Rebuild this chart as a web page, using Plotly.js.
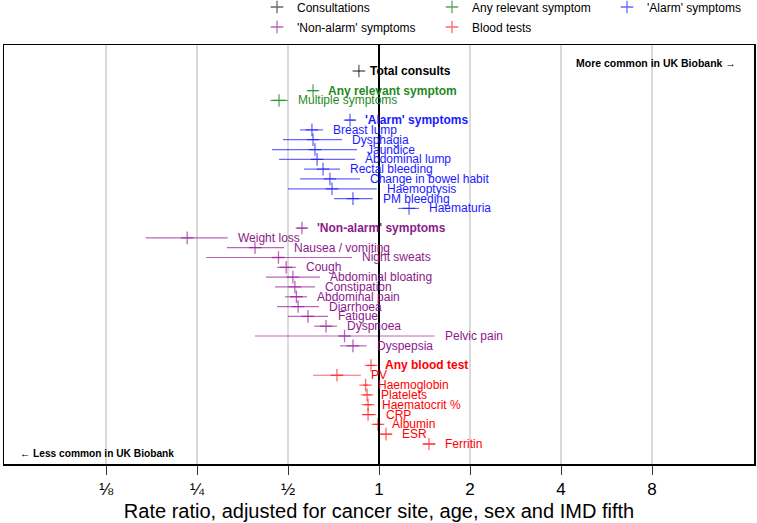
<!DOCTYPE html>
<html><head><meta charset="utf-8">
<script src="https://cdn.plot.ly/plotly-3.0.1.min.js"></script>
<style>html,body{margin:0;padding:0;background:#fff}</style>
</head><body><div id="chart" style="width:757px;height:523px"></div>
<script>
// ---- data (rate ratio, lower CI, upper CI) ----
const consultLabels = ['Total consults'];
const consultRR = [0.858];
const consultLo = [0.851];
const consultHi = [0.865];

const anyLabels = ['Any relevant symptom', 'Multiple symptoms'];
const anyRR = [0.605, 0.467];
const anyLo = [0.582, 0.437];
const anyHi = [0.629, 0.499];

const alarmLabels = ["'Alarm' symptoms", 'Breast lump', 'Dysphagia', 'Jaundice', 'Abdominal lump', 'Rectal bleeding', 'Change in bowel habit', 'Haemoptysis', 'PM bleeding', 'Haematuria'];
const alarmRR = [0.802, 0.600, 0.605, 0.614, 0.624, 0.653, 0.688, 0.699, 0.820, 1.257];
const alarmLo = [0.772, 0.548, 0.481, 0.443, 0.467, 0.565, 0.548, 0.500, 0.710, 1.156];
const alarmHi = [0.833, 0.653, 0.755, 0.846, 0.833, 0.743, 0.865, 0.983, 0.953, 1.356];

const nonAlarmLabels = ["'Non-alarm' symptoms", 'Weight loss', 'Nausea / vomiting', 'Night sweats', 'Cough', 'Abdominal bloating', 'Constipation', 'Abdominal pain', 'Diarrhoea', 'Fatigue', 'Dyspnoea', 'Pelvic pain', 'Dyspepsia'];
const nonAlarmRR = [0.556, 0.232, 0.389, 0.465, 0.493, 0.519, 0.527, 0.533, 0.540, 0.582, 0.668, 0.769, 0.820];
const nonAlarmLo = [0.535, 0.169, 0.314, 0.268, 0.460, 0.423, 0.453, 0.489, 0.460, 0.500, 0.610, 0.389, 0.743];
const nonAlarmHi = [0.578, 0.316, 0.485, 0.814, 0.531, 0.638, 0.614, 0.578, 0.633, 0.678, 0.726, 1.527, 0.910];

const bloodLabels = ['Any blood test', 'PV', 'Haemoglobin', 'Platelets', 'Haematocrit %', 'CRP', 'Albumin', 'ESR', 'Ferritin'];
const bloodRR = [0.941, 0.726, 0.903, 0.913, 0.920, 0.920, 0.992, 1.055, 1.463];
const bloodLo = [0.913, 0.605, 0.885, 0.887, 0.894, 0.883, 0.963, 1.008, 1.398];
const bloodHi = [0.970, 0.871, 0.922, 0.939, 0.946, 0.977, 1.023, 1.104, 1.536];

const groupNames = ['Consultations', 'Any relevant symptom', "'Alarm' symptoms", "'Non-alarm' symptoms", 'Blood tests'];
const tickVals = [0.125, 0.25, 0.5, 1, 2, 4, 8];
const tickText = ['⅛', '¼', '½', '1', '2', '4', '8'];

// ---- styling ----
const FONT = 'Liberation Sans, Arial, Helvetica, sans-serif';
const styles = [
  {text: '#000000', line: 'rgba(0,0,0,0.6)', legend: 'legend'},
  {text: '#1f8a1f', line: 'rgba(34,139,34,0.75)', legend: 'legend'},
  {text: '#1a1aff', line: 'rgba(0,0,255,0.6)', legend: 'legend'},
  {text: '#8b1a8b', line: 'rgba(139,0,139,0.6)', legend: 'legend2'},
  {text: '#ff0000', line: 'rgba(255,0,0,0.6)', legend: 'legend2'}
];

const groups = [
  [consultLabels, consultRR, consultLo, consultHi],
  [anyLabels, anyRR, anyLo, anyHi],
  [alarmLabels, alarmRR, alarmLo, alarmHi],
  [nonAlarmLabels, nonAlarmRR, nonAlarmLo, nonAlarmHi],
  [bloodLabels, bloodRR, bloodLo, bloodHi]
];

const traces = [];
const annotations = [];
let row = 0;
groups.forEach((g, gi) => {
  const [labels, rr, lo, hi] = g;
  const st = styles[gi];
  const rows = labels.map((_, i) => row + i);
  row += labels.length + 1;
  traces.push({
    type: 'scatter', mode: 'markers', name: groupNames[gi], legend: st.legend,
    x: rr, y: rows,
    marker: {symbol: 'cross-thin', size: 9, color: st.line, line: {color: st.line, width: 1.3}},
    error_x: {type: 'data', symmetric: false,
      array: rr.map((v, i) => hi[i] - v), arrayminus: rr.map((v, i) => v - lo[i]),
      color: st.line, thickness: 1.2, width: 0},
    hoverinfo: 'skip'
  });
  labels.forEach((lab, i) => {
    annotations.push({
      xref: 'x', yref: 'y', x: Math.log10(hi[i]), y: rows[i], text: lab,
      xanchor: 'left', yanchor: 'middle', xshift: 8, showarrow: false,
      font: {family: FONT, size: 12, color: st.text, weight: i === 0 ? 'bold' : 'normal'}
    });
  });
});

annotations.push({
  xref: 'paper', yref: 'paper', x: 0.979, y: 0.957, xanchor: 'right', yanchor: 'middle',
  text: 'More common in UK Biobank →', showarrow: false,
  font: {family: FONT, size: 10.5, color: '#000', weight: 'bold'}
});
annotations.push({
  xref: 'paper', yref: 'paper', x: 0.019, y: 0.024, xanchor: 'left', yanchor: 'middle',
  text: '← Less common in UK Biobank', showarrow: false,
  font: {family: FONT, size: 10.2, color: '#000', weight: 'bold'}
});

const legendBase = {
  orientation: 'h', xref: 'container', yref: 'container', x: 257 / 757,
  xanchor: 'left', yanchor: 'middle', font: {family: FONT, size: 12, color: '#000'},
  bgcolor: 'rgba(0,0,0,0)', entrywidth: 130, entrywidthmode: 'pixels', traceorder: 'normal'
};

const layout = {
  width: 757, height: 523,
  margin: {l: 4, r: 3, t: 45, b: 59, autoexpand: false},
  paper_bgcolor: '#fff', plot_bgcolor: '#fff',
  font: {family: FONT, color: '#000'},
  showlegend: true,
  legend: Object.assign({}, legendBase, {y: 1 - 7 / 523}),
  legend2: Object.assign({}, legendBase, {y: 1 - 27 / 523}),
  xaxis: {
    type: 'log', range: [-1.2405, 1.2405], tickvals: tickVals, ticktext: tickText,
    ticks: 'outside', ticklen: 9, tickcolor: '#333', tickwidth: 1,
    showgrid: true, gridcolor: '#dadada', gridwidth: 2,
    showline: true, mirror: true, linecolor: '#000', linewidth: 1.5, zeroline: false,
    tickfont: {family: FONT, size: 17, color: '#000'}, automargin: false,
    title: {text: 'Rate ratio, adjusted for cancer site, age, sex and IMD fifth', font: {family: FONT, size: 20, color: '#000'}, standoff: 6}
  },
  yaxis: {
    range: [40.04, -2.65], showticklabels: false, ticks: '', showgrid: false, zeroline: false,
    showline: true, mirror: true, linecolor: '#000', linewidth: 1.5, automargin: false
  },
  shapes: [{type: 'line', xref: 'x', yref: 'paper', x0: 1, x1: 1, y0: 0, y1: 1, line: {color: '#000', width: 2}}],
  annotations: annotations
};

Plotly.newPlot('chart', traces, layout, {displayModeBar: false, staticPlot: true});
</script>
</body></html>
